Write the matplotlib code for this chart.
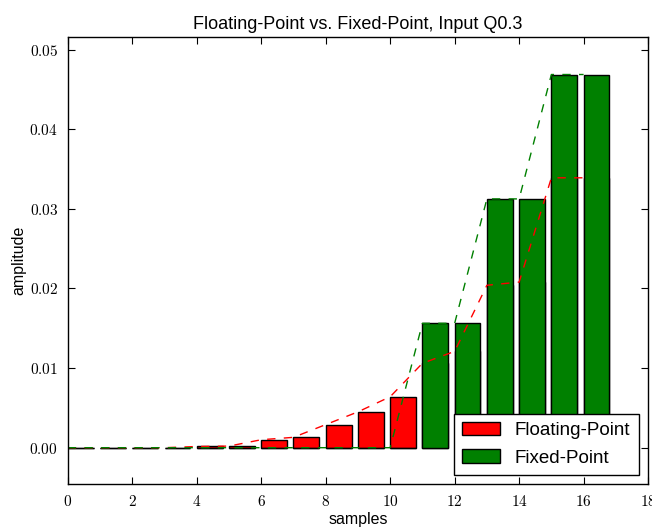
import numpy as np
import matplotlib
matplotlib.use("Agg")
import matplotlib.pyplot as plt
from matplotlib.ticker import FuncFormatter

plt.rcParams['font.family'] = ['Liberation Sans', 'DejaVu Sans']
plt.rcParams['mathtext.fontset'] = 'cm'

# --- data ---
samples = np.arange(17)
floating_point = [0.0, 0.0, 0.0, 0.0, 0.00015, 0.0002, 0.0010, 0.0013, 0.0029,
                  0.0045, 0.0064, 0.0106, 0.0121, 0.0204, 0.0208, 0.0339, 0.0339]
fixed_point = [0.0, 0.0, 0.0, 0.0, 0.0, 0.0, 0.0, 0.0, 0.0, 0.0, 0.0,
               0.015625, 0.015625, 0.03125, 0.03125, 0.046875, 0.046875]

fig = plt.figure(figsize=(6.52, 5.27), dpi=100)
ax = fig.add_axes([0.104, 0.081, 0.890, 0.849])

ax.bar(samples, floating_point, width=0.8, align='edge', color='red',
       edgecolor='black', linewidth=1, label='Floating-Point')
ax.bar(samples, fixed_point, width=0.8, align='edge', color='green',
       edgecolor='black', linewidth=1, label='Fixed-Point')
ax.plot(samples, floating_point, color='red', linestyle=(0, (6, 6)), linewidth=1)
ax.plot(samples, fixed_point, color='green', linestyle=(0, (6, 6)), linewidth=1)

ax.set_xlim(0, 18)
ax.set_ylim(-0.0046, 0.0516)
ax.set_xticks(np.arange(0, 19, 2))
ax.set_yticks(np.arange(0, 0.051, 0.01))
ax.xaxis.set_major_formatter(FuncFormatter(lambda v, p: r'$%d$' % v))
ax.yaxis.set_major_formatter(FuncFormatter(lambda v, p: r'$%.2f$' % v))
ax.tick_params(direction='in', top=True, right=True, length=5, width=0.8,
               labelsize=11, pad=7)
for s in ax.spines.values():
    s.set_linewidth(1)

ax.set_title('Floating-Point vs. Fixed-Point, Input Q0.3', fontsize=13, pad=6)
ax.set_xlabel('samples', fontsize=11.5, labelpad=2)
ax.set_ylabel('amplitude', fontsize=11.5, labelpad=2)

leg = ax.legend(loc='lower right', fontsize=13.5, fancybox=False, framealpha=1,
                edgecolor='black', handlelength=2.0, handleheight=0.7,
                handletextpad=0.8, borderaxespad=0.5, labelspacing=0.55,
                borderpad=0.45)
leg.get_frame().set_linewidth(1)

fig.savefig('out.png', dpi=100)
